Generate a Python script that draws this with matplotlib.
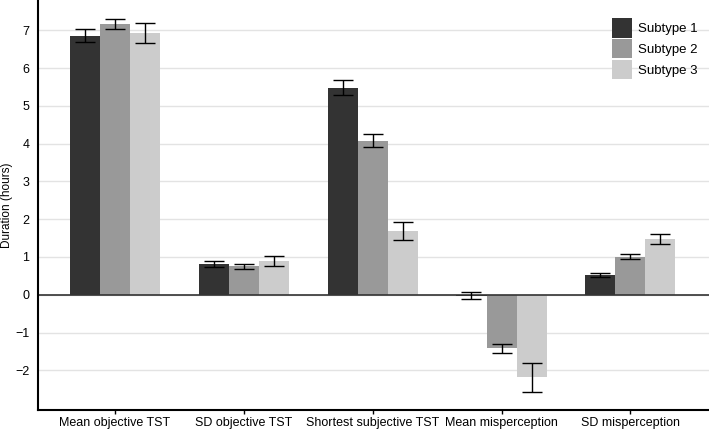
import numpy as np
import matplotlib.pyplot as plt

plt.rcParams['font.family'] = ['Liberation Sans', 'DejaVu Sans']

categories = ["Mean objective TST", "SD objective TST", "Shortest subjective TST",
              "Mean misperception", "SD misperception"]
subtypes = ["Subtype 1", "Subtype 2", "Subtype 3"]

# bar heights per subtype
values = [
    [6.85, 0.82, 5.47, -0.03, 0.51],
    [7.16, 0.75, 4.07, -1.42, 1.00],
    [6.92, 0.88, 1.68, -2.19, 1.47],
]
# error bar lower / upper ends
err_low = [
    [6.68, 0.74, 5.28, -0.12, 0.46],
    [7.04, 0.68, 3.90, -1.53, 0.94],
    [6.65, 0.76, 1.46, -2.57, 1.34],
]
err_high = [
    [7.02, 0.90, 5.68, 0.07, 0.57],
    [7.30, 0.82, 4.25, -1.31, 1.08],
    [7.20, 1.02, 1.92, -1.82, 1.60],
]
colors = ["#333333", "#999999", "#cccccc"]

fig = plt.figure(figsize=(7.09, 4.32), dpi=100)
ax = fig.add_axes([0.053, 0.051, 0.947, 0.949])

x = np.arange(len(categories))
w = 0.233
for i in range(3):
    v = np.array(values[i])
    lo = v - np.array(err_low[i])
    hi = np.array(err_high[i]) - v
    ax.bar(x + (i - 1) * w, v, w, color=colors[i], label=subtypes[i], zorder=2)
    ax.errorbar(x + (i - 1) * w, v, yerr=[lo, hi], fmt='none', ecolor='black',
                elinewidth=1, capsize=7, capthick=1, zorder=3)

ax.axhline(0, color='#333333', lw=1.2, zorder=2.5)
ax.set_xlim(-0.6, 4.61)
ax.set_ylim(-3.05, 7.8)
ax.set_yticks(range(-2, 8))
ax.set_yticklabels([str(t).replace('-', '\u2212') for t in range(-2, 8)])
ax.grid(axis='y', color='#e3e3e3', lw=1, zorder=0)
ax.set_axisbelow(True)
ax.set_xticks(x)
ax.set_xticklabels(categories)
ax.tick_params(axis='x', length=3, width=1, labelsize=9, pad=2)
ax.tick_params(axis='y', length=0, labelsize=9, pad=6)
for s in ['top', 'right']:
    ax.spines[s].set_visible(False)
ax.spines['left'].set_linewidth(1.5)
ax.spines['bottom'].set_linewidth(1.5)
ax.set_ylabel("Duration (hours)", fontsize=8.5)
ax.yaxis.set_label_coords(-0.037, 0.5)

ax.legend(loc='upper right', bbox_to_anchor=(1.0, 0.985), frameon=False,
          fontsize=9.5, handlelength=1.5, handleheight=1.9, handletextpad=0.4,
          labelspacing=0.1)

fig.savefig("out.png", dpi=100)
